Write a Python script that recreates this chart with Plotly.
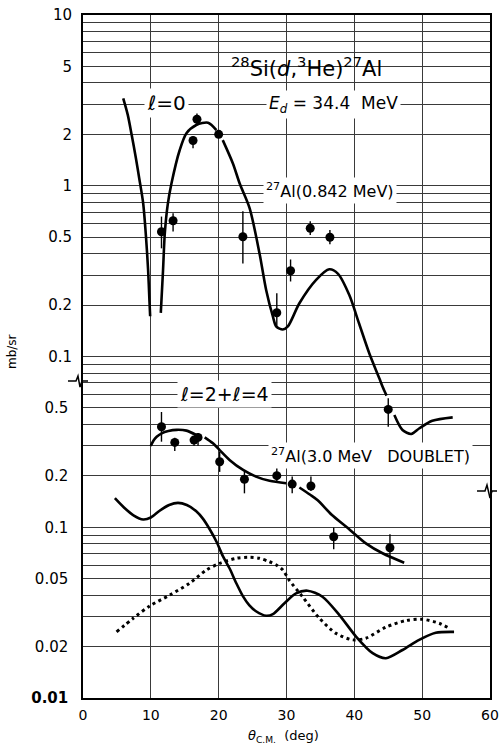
import plotly.graph_objects as go

# ---------------- data ----------------
# Upper group: 28Si(d,3He)27Al (0.842 MeV), l=0  -- values on the upper scale (mb/sr)
l0_a_x = [5.93, 6.6, 7.16, 7.8, 8.3, 8.87, 9.29, 9.6, 9.8, 9.9]
l0_a_y = [3.25, 2.6, 2.0, 1.45, 1.1, 0.79, 0.50, 0.32, 0.21, 0.172]
l0_b_x = [11.47, 11.8, 12.06, 12.5, 13.04, 14.26, 15.25, 16.7, 18.43, 19.66]
l0_b_y = [0.18, 0.32, 0.527, 0.78, 1.03, 1.62, 2.03, 2.27, 2.34, 2.12]
l0_c_x = [20.6, 22.1, 23.1, 24.56, 26.03, 27.0, 28.0, 28.5, 29.46, 30.2, 31.9, 34.37,
          36.3, 37.6, 39.26, 40.7, 42.2, 43.68, 44.2, 44.75]
l0_c_y = [1.85, 1.35, 1.03, 0.74, 0.40, 0.245, 0.171, 0.1495, 0.144, 0.150, 0.205, 0.281,
          0.324, 0.305, 0.229, 0.156, 0.1045, 0.0745, 0.066, 0.059]
l0_d_x = [45.9, 47.1, 48.4, 49.6, 51.5, 54.5]
l0_d_y = [0.0454, 0.0371, 0.0352, 0.038, 0.042, 0.044]

top_pts_x = [11.57, 13.28, 16.22, 16.8, 20.0, 23.57, 28.57, 30.6, 33.5, 36.4, 45.0]
top_pts_y = [0.538, 0.624, 1.84, 2.45, 2.0, 0.503, 0.1805, 0.318, 0.564, 0.499, 0.049]
top_pts_hi = [0.66, 0.69, 1.94, 2.65, 2.05, 0.71, 0.235, 0.37, 0.62, 0.55, 0.0569]
top_pts_lo = [0.43, 0.54, 1.66, 2.30, 1.95, 0.35, 0.15, 0.275, 0.515, 0.455, 0.0388]

# Lower group: 27Al (3.0 MeV doublet), l=2 + l=4  -- values on the lower scale (mb/sr)
l24_a_x = [9.98, 10.4, 10.86, 11.6, 12.58, 13.8, 15.25, 16.7]
l24_a_y = [0.299, 0.322, 0.339, 0.355, 0.366, 0.372, 0.368, 0.347]
l24_b_x = [17.94, 19.16, 20.15, 21.6, 23.6, 25.5, 27.5, 29.96]
l24_b_y = [0.336, 0.31, 0.283, 0.248, 0.2165, 0.198, 0.187, 0.181]
l24_c_x = [31.9, 33.5, 34.6, 36.7, 38.9, 41.7, 44.16, 47.35]
l24_c_y = [0.171, 0.155, 0.144, 0.118, 0.1, 0.0805, 0.0704, 0.062]

l2_x = [4.7, 6.0, 7.5, 8.87, 10.0, 11.3, 12.7, 14.0, 15.3, 16.7, 17.7, 18.7, 19.7, 20.6,
        21.6, 22.6, 23.57, 24.5, 25.5, 27.0, 28.0, 29.7, 31.4, 33.1, 35.3, 37.8, 40.25,
        42.7, 44.66, 47.1, 49.56, 52.0, 54.7]
l2_y = [0.148, 0.131, 0.117, 0.111, 0.114, 0.125, 0.135, 0.139, 0.135, 0.124, 0.112, 0.097,
        0.082, 0.068, 0.0575, 0.047, 0.0395, 0.035, 0.0322, 0.0303, 0.031, 0.0359, 0.041,
        0.0425, 0.0392, 0.0306, 0.0229, 0.0183, 0.0171, 0.0191, 0.0219, 0.0241, 0.0244]

l4_x = [4.95, 7.4, 9.85, 12.8, 15.7, 18.2, 20.15, 22.6, 24.56, 26.0, 27.5, 28.5, 29.46,
        30.4, 32.4, 34.85, 37.3, 39.75, 41.7, 44.66, 47.6, 50.04, 52.5, 54.0]
l4_y = [0.0244, 0.0293, 0.0346, 0.0401, 0.047, 0.0562, 0.0615, 0.0658, 0.0667, 0.0658,
        0.0628, 0.0601, 0.0562, 0.049, 0.039, 0.0293, 0.0239, 0.0219, 0.0224, 0.026,
        0.0284, 0.0289, 0.0274, 0.0256]

bot_pts_x = [11.57, 13.53, 16.37, 16.96, 20.15, 23.8, 28.57, 30.84, 33.6, 36.96, 45.25]
bot_pts_y = [0.388, 0.314, 0.324, 0.336, 0.242, 0.191, 0.2005, 0.179, 0.1745, 0.088, 0.0759]
bot_pts_hi = [0.473, 0.334, 0.34, 0.357, 0.276, 0.215, 0.226, 0.198, 0.198, 0.0995, 0.0909]
bot_pts_lo = [0.317, 0.28, 0.30, 0.30, 0.211, 0.158, 0.185, 0.158, 0.163, 0.0743, 0.0598]

x_ticks = [0, 10, 20, 30, 40, 50, 60]
top_ticks = [0.1, 0.2, 0.5, 1, 2, 5, 10]
top_tick_text = ["0.1", "0.2", "0.5", "1", "2", "5", "10"]
bot_ticks = [0.01, 0.02, 0.05, 0.1, 0.2, 0.5]
bot_tick_text = ["<b>0.01</b>", "0.02", "0.05", "0.1", "0.2", "0.5"]

# ---------------- figure ----------------
W, H = 499, 748
ML, MR, MT, MB = 83, 9, 15, 50
PW, PH = W - ML - MR, H - MT - MB

def pxp(px):  # window pixel x -> paper x
    return (px - ML) / PW

def pyp(py):  # window pixel y -> paper y
    return (H - MB - py) / PH

FONT = "DejaVu Sans"
LW = 2.6
fig = go.Figure()

def line(x, y, axis, dash=None, width=LW):
    fig.add_trace(go.Scatter(x=x, y=y, mode="lines", yaxis=axis,
                             line=dict(color="black", width=width, dash=dash,
                                       shape="spline", smoothing=0.8),
                             showlegend=False, hoverinfo="skip"))

for xs, ys in [(l0_a_x, l0_a_y), (l0_b_x, l0_b_y), (l0_c_x, l0_c_y), (l0_d_x, l0_d_y)]:
    line(xs, ys, "y2")
for xs, ys in [(l24_a_x, l24_a_y), (l24_b_x, l24_b_y), (l24_c_x, l24_c_y), (l2_x, l2_y)]:
    line(xs, ys, "y")
line(l4_x, l4_y, "y", dash="3px,3.5px", width=3)

def points(x, y, hi, lo, axis):
    fig.add_trace(go.Scatter(
        x=x, y=y, mode="markers", yaxis=axis,
        marker=dict(color="black", size=9),
        error_y=dict(type="data", symmetric=False,
                     array=[h - v for h, v in zip(hi, y)],
                     arrayminus=[v - l for v, l in zip(y, lo)],
                     color="black", thickness=1.4, width=0),
        showlegend=False, hoverinfo="skip"))

points(top_pts_x, top_pts_y, top_pts_hi, top_pts_lo, "y2")
points(bot_pts_x, bot_pts_y, bot_pts_hi, bot_pts_lo, "y")

minor_vals = [m * 10 ** k for k in range(-2, 2) for m in range(1, 10)] + [100]
GRID = "#3a3a3a"

fig.update_layout(
    width=W, height=H,
    margin=dict(l=ML, r=MR, t=MT, b=MB, autoexpand=False),
    paper_bgcolor="white", plot_bgcolor="white",
    font=dict(family=FONT, color="black"),
    xaxis=dict(range=[0, 60], tickvals=x_ticks, showgrid=True, gridcolor=GRID,
               gridwidth=1, zeroline=False, showline=True, linecolor="black",
               linewidth=1.5, mirror=True, ticks="", ticklabelstandoff=3,
               automargin=False, ticklabeloverflow="allow",
               tickfont=dict(size=14, family=FONT)),
    yaxis=dict(type="log", range=[-2, 2], tickvals=bot_ticks, ticktext=bot_tick_text,
               showgrid=True, gridcolor=GRID, gridwidth=1, zeroline=False,
               showline=True, linecolor="black", linewidth=1.5, mirror=True,
               ticks="", ticklabelstandoff=10, automargin=False,
               ticklabeloverflow="allow", tickfont=dict(size=15, family=FONT),
               minor=dict(tickvals=minor_vals, showgrid=True, gridcolor=GRID,
                          gridwidth=1, ticks="")),
    yaxis2=dict(type="log", range=[-3, 1], overlaying="y", side="left",
                tickvals=top_ticks, ticktext=top_tick_text, showgrid=False,
                zeroline=False, showline=False, ticks="", ticklabelstandoff=10,
                automargin=False, ticklabeloverflow="allow",
                tickfont=dict(size=15, family=FONT)),
)

# white label box behind reaction title (interrupts grid)
fig.add_shape(type="rect", xref="paper", yref="paper",
              x0=pxp(222), x1=pxp(392), y0=pyp(88), y1=pyp(45),
              fillcolor="white", line=dict(width=0), layer="between")

def label(text, px, py, size=16, bg="white", angle=0):
    fig.add_annotation(text=text, x=pxp(px), y=pyp(py), xref="paper", yref="paper",
                       showarrow=False, font=dict(size=size, family=FONT, color="black"),
                       bgcolor=bg, borderpad=2, xanchor="center", yanchor="middle",
                       textangle=angle)

label("<sup>28</sup>Si(<i>d</i>,<sup>3</sup>He)<sup>27</sup>Al", 306, 67, size=21, bg="rgba(0,0,0,0)")
label("<i>ℓ</i>=0", 166, 103, size=20)
label("<i>E<sub>d</sub></i> = 34.4  MeV", 333, 104, size=17)
label("<sup>27</sup>Al(0.842 MeV)", 330, 190, size=16)
label("<i>ℓ</i>=2+<i>ℓ</i>=4", 224, 394, size=19)
label("<sup>27</sup>Al(3.0 MeV\u00a0\u00a0 DOUBLET)", 370, 456, size=16)

# axis titles
label("mb/sr", 12, 352, size=12, bg="rgba(0,0,0,0)", angle=-90)
label("<i>θ</i><sub>C.M.</sub>  (deg)", 283, 736, size=13, bg="rgba(0,0,0,0)")

# axis-break marks
def zig(points_px):
    d = "M " + " L ".join(f"{pxp(a):.4f},{pyp(b):.4f}" for a, b in points_px)
    fig.add_shape(type="path", path=d, xref="paper", yref="paper",
                  line=dict(color="black", width=1.5), layer="above")

zig([(68, 381), (76, 381), (78, 376), (80, 387), (82, 381), (88, 381)])
zig([(477, 491), (485, 491), (487, 485), (490, 498), (492, 491), (497, 491)])

# the page body has a default 8px margin; remove it so the figure fills the window
fig.write_html("out.html", config={"displayModeBar": False},
               post_script="document.body.style.margin='0px';document.body.style.overflow='hidden';")
